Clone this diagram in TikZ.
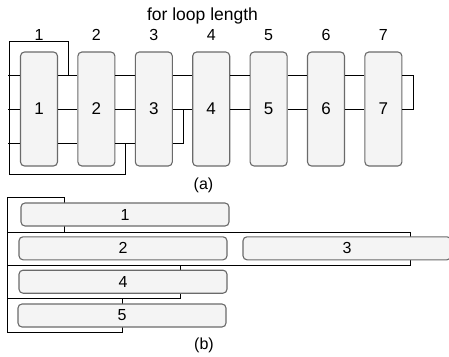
\documentclass[tikz,border=0pt]{standalone}
\usepackage{fontspec}
\setmainfont{Liberation Sans}
\definecolor{boxfill}{HTML}{F4F4F4}
\definecolor{boxline}{HTML}{6A6A6A}
\tikzset{
  stage/.style={draw=boxline, fill=boxfill, rounded corners=4pt, line width=1.1pt,
    minimum width=37pt, minimum height=114pt, inner sep=0pt, font=\fontsize{17}{20}\selectfont},
  bar/.style={stage, minimum width=208pt, minimum height=23pt, font=\fontsize{16}{19}\selectfont},
  wire/.style={line width=1pt}
}
\begin{document}
\begin{tikzpicture}[x=1pt, y=-1pt, line join=miter, font=\fontsize{16}{19}\selectfont]
  \useasboundingbox (0,0) rectangle (449,356);
  % (a) for loop over length
  \node[anchor=base] (title) at (202.5,20.5) {\fontsize{17.5}{20}\selectfont for loop length};
  \foreach \i in {1,...,7} {
    \node[stage] (a\i) at ({39+57.4*(\i-1)},109) {\i};
    \node[anchor=base] (n\i) at ({39+57.4*(\i-1)},40) {\i};
  }
  \foreach \i [count=\j from 2] in {1,...,6} {
    \draw[wire] ([yshift=34pt]a\i.east) -- ([yshift=34pt]a\j.west);
    \draw[wire] (a\i.east) -- (a\j.west);
  }
  \foreach \i/\j in {1/2,2/3}
    \draw[wire] ([yshift=-34pt]a\i.east) -- ([yshift=-34pt]a\j.west);
  \coordinate (lt) at (9,41);
  \coordinate (lb) at (9,174);
  \draw[wire] (lt) -- (lb);
  \foreach \s in {34,0,-34}
    \draw[wire] ([yshift=\s pt]a1.west) -- ++(-11.5,0);
  \draw[wire] (lt) -| (68,75);
  \draw[wire] (lb) -| (125,143);
  \draw[wire] ([yshift=34pt]a7.east) -- ++(11,0) |- (a7.east);
  \draw[wire] ([yshift=-34pt]a3.east) -- ++(11,0) |- (a3.east);
  \node (capa) at (203.5,185) {(a)};
  % (b) rows
  \coordinate (bt) at (7,197);
  \coordinate (bb) at (7,332);
  \draw[wire] (bt) -- (bb);
  \draw[wire] (bt) -| (64,232);
  \draw[wire] (7,232) -| (410,265) -- (7,265);
  \draw[wire] (180,265) |- (7,298);
  \draw[wire] (122,298) |- (bb);
  \node[bar] (b1) at (125,214.5) {1};
  \node[bar] (b2) at (123,248.3) {2};
  \node[bar] (b3) at (347,248.3) {3};
  \node[bar] (b4) at (123,281.7) {4};
  \node[bar] (b5) at (122,315.5) {5};
  \node (capb) at (204,345) {(b)};
\end{tikzpicture}
\end{document}
